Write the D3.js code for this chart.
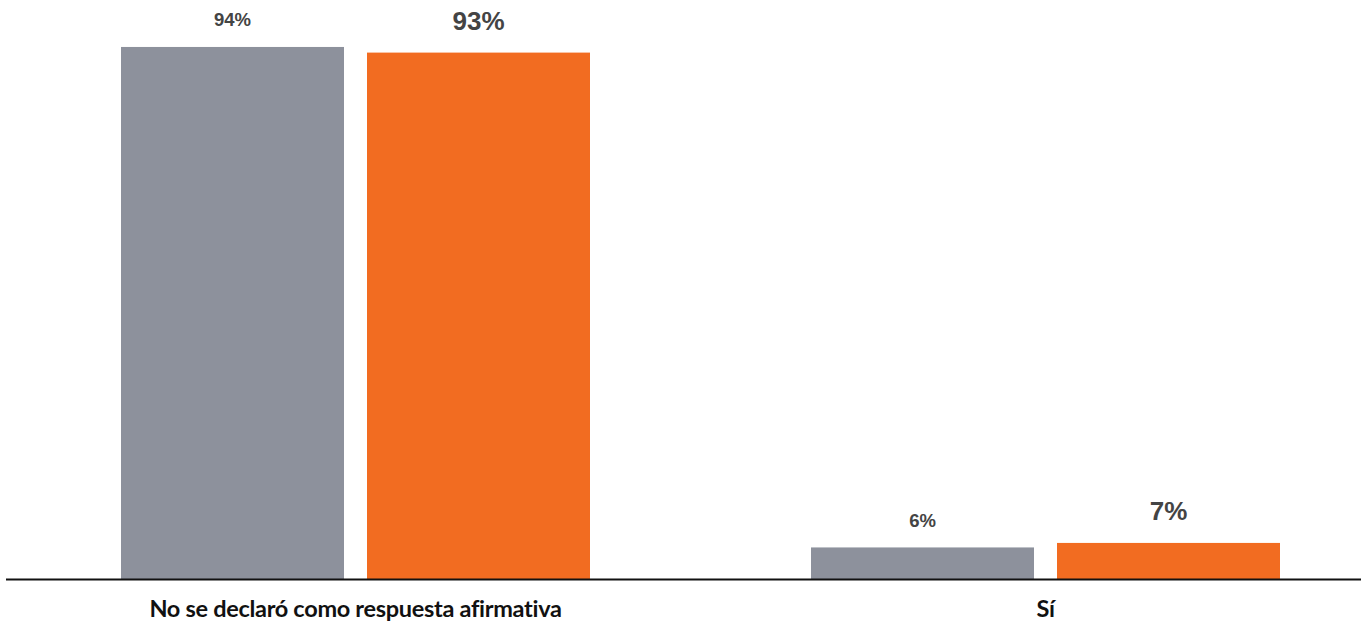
<!DOCTYPE html>
<html><head><meta charset="utf-8">
<script src="https://cdn.jsdelivr.net/npm/d3@7"></script>
<style>body{margin:0;background:#fff}svg{display:block}</style>
</head><body>
<svg id="c" width="1361" height="622"></svg>
<script>
const categories = ["No se declaró como respuesta afirmativa", "Sí"];
const seriesNames = ["Serie A", "Serie B"];
const seriesA = [94.4, 5.6];
const seriesB = [93.4, 6.4];
const labelsA = ["94%", "6%"];
const labelsB = ["93%", "7%"];
const colors = ["#8d919c", "#f26c21"];

const svg = d3.select("#c");
const baseY = 579;
const y = d3.scaleLinear().domain([0, 100]).range([baseY, baseY - 563.6]);
const x0 = d3.scaleBand().domain(categories).range([121, 1280]).paddingInner(221/690).paddingOuter(0);
const x1 = d3.scaleBand().domain(seriesNames).range([0, x0.bandwidth()]).paddingInner(23/246).paddingOuter(0);

const data = categories.map((c, i) => ({cat: c, vals: [seriesA[i], seriesB[i]], labs: [labelsA[i], labelsB[i]]}));

const g = svg.selectAll("g.grp").data(data).join("g")
  .attr("transform", d => `translate(${x0(d.cat)},0)`);

const items = d => d.vals.map((v, j) => ({v, s: seriesNames[j], j, lab: d.labs[j]}));

g.selectAll("rect").data(items)
  .join("rect")
  .attr("x", d => x1(d.s)).attr("width", x1.bandwidth())
  .attr("y", d => y(d.v)).attr("height", d => baseY - y(d.v))
  .attr("fill", d => colors[d.j]);

g.selectAll("text.val").data(items)
  .join("text").attr("class", "val")
  .attr("x", d => x1(d.s) + x1.bandwidth() / 2)
  .attr("y", d => y(d.v) - (d.j === 0 ? 20.5 : 23))
  .attr("text-anchor", "middle")
  .attr("font-family", "Liberation Sans, Arial, sans-serif")
  .attr("font-weight", "bold")
  .attr("font-size", d => d.j === 0 ? 18.5 : 26)
  .attr("fill", "#444")
  .text(d => d.lab);

// axis
const axis = d3.axisBottom(x0).tickSize(0).tickPadding(0);
const ax = svg.append("g").attr("transform", `translate(0,${baseY})`).call(axis);
ax.select(".domain").remove();
svg.append("line").attr("x1", 6).attr("x2", 1361).attr("y1", baseY + 0.5).attr("y2", baseY + 0.5)
  .attr("stroke", "#111").attr("stroke-width", 2);
ax.selectAll("text")
  .attr("y", 38).attr("dy", 0)
  .attr("font-family", "Lato, sans-serif")
  .attr("font-weight", "bold")
  .attr("font-size", 23.5)
  .attr("letter-spacing", -0.3)
  .attr("fill", "#111");
</script>
</body></html>
